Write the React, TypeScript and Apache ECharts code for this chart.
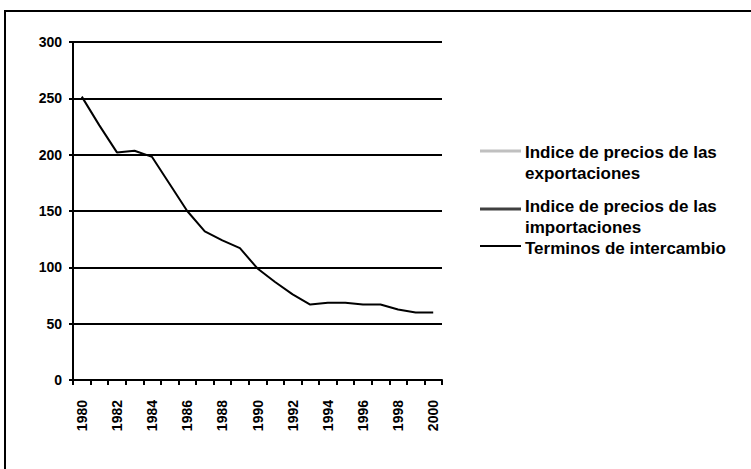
import React, { useEffect, useRef } from "react";
import * as echarts from "echarts";

const years = ["1980","1981","1982","1983","1984","1985","1986","1987","1988","1989","1990","1991","1992","1993","1994","1995","1996","1997","1998","1999","2000"];
const terminos = [251.5, 226, 202, 203.5, 198, 174, 150, 132, 124, 117, 99, 87, 76, 67, 68.6, 68.6, 67, 67, 62.5, 60, 60];
const exportaciones: (number | null)[] = [];
const importaciones: (number | null)[] = [];
const yTicks = [0, 50, 100, 150, 200, 250, 300];

const seriesNames = [
  "Indice de precios de las exportaciones",
  "Indice de precios de las importaciones",
  "Terminos de intercambio",
];
const legendLabels = [
  "Indice de precios de las\nexportaciones",
  "Indice de precios de las\nimportaciones",
  "Terminos de intercambio",
];
const seriesColors = ["#c0c0c0", "#404040", "#000000"];
const seriesWidths = [4, 4, 2];

export default function App() {
  const ref = useRef<HTMLDivElement>(null);
  useEffect(() => {
    if (!ref.current) return;
    const chart = echarts.init(ref.current, undefined, { renderer: "svg" });
    const font = "'Liberation Sans', Arial, sans-serif";
    const legendTop = [142, 196, 238];
    const legendLineY = [151, 209, 246];
    const graphic: any[] = [
      {
        type: "rect",
        shape: { x: 5, y: 11, width: 760, height: 480 },
        style: { fill: "none", stroke: "#000", lineWidth: 2 },
        silent: true,
      },
    ];
    seriesNames.forEach((_, i) => {
      graphic.push({
        type: "line",
        shape: { x1: 480, y1: legendLineY[i], x2: 521, y2: legendLineY[i] },
        style: { stroke: seriesColors[i], lineWidth: seriesWidths[i] - (i < 2 ? 1 : 0) },
      });
      graphic.push({
        type: "text",
        x: 525,
        y: legendTop[i],
        style: {
          text: legendLabels[i],
          font: `bold 17px ${font}`,
          fill: "#000",
          lineHeight: 21,
          textVerticalAlign: "top",
        },
      });
    });
    chart.setOption({
      animation: false,
      backgroundColor: "#fff",
      textStyle: { fontFamily: font },
      grid: { left: 73, right: 309, top: 42, bottom: 89 },
      xAxis: {
        type: "category",
        data: years,
        boundaryGap: true,
        axisLine: { lineStyle: { color: "#000", width: 2 } },
        axisTick: { show: true, length: 5, lineStyle: { color: "#000", width: 2 }, interval: 0 },
        axisLabel: {
          rotate: 90,
          interval: 1,
          margin: 20,
          color: "#000",
          fontWeight: "bold",
          fontSize: 14,
          fontFamily: font,
        },
      },
      yAxis: {
        type: "value",
        min: 0,
        max: 300,
        interval: 50,
        axisLine: { show: true, lineStyle: { color: "#000", width: 2 } },
        axisTick: { show: true, length: 4, lineStyle: { color: "#000", width: 2 } },
        splitLine: { lineStyle: { color: "#000", width: 2 } },
        axisLabel: {
          margin: 11,
          color: "#000",
          fontWeight: "bold",
          fontSize: 14,
          fontFamily: font,
          customValues: yTicks,
        },
      },
      series: [
        {
          name: seriesNames[0],
          type: "line",
          data: exportaciones,
          symbol: "none",
          lineStyle: { color: seriesColors[0], width: seriesWidths[0] },
        },
        {
          name: seriesNames[1],
          type: "line",
          data: importaciones,
          symbol: "none",
          lineStyle: { color: seriesColors[1], width: seriesWidths[1] },
        },
        {
          name: seriesNames[2],
          type: "line",
          data: terminos,
          symbol: "none",
          lineStyle: { color: seriesColors[2], width: seriesWidths[2] },
        },
      ],
      graphic,
    });
    return () => chart.dispose();
  }, []);
  return (
    <div
      ref={ref}
      style={{ position: "fixed", left: 0, top: 0, width: 751, height: 469 }}
    />
  );
}
